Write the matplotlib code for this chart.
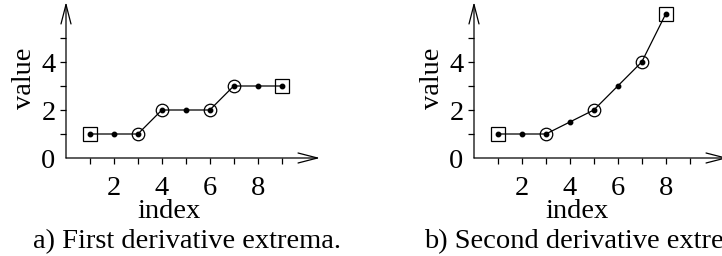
import matplotlib
matplotlib.use("Agg")
import matplotlib.pyplot as plt
from matplotlib.patches import FancyArrowPatch

plt.rcParams['font.family'] = ['Liberation Serif', 'DejaVu Serif']

# Data
idx_a = [1, 2, 3, 4, 5, 6, 7, 8, 9]
val_a = [1, 1, 1, 2, 2, 2, 3, 3, 3]
circ_a = [3, 4, 6, 7]
sq_a = [1, 9]

idx_b = [1, 2, 3, 4, 5, 6, 7, 8]
val_b = [1, 1, 1, 1.5, 2, 3, 4, 6]
circ_b = [3, 5, 7]
sq_b = [1, 8]

xticks = [1, 2, 3, 4, 5, 6, 7, 8, 9]
xticklabels = ['', '2', '', '4', '', '6', '', '8', '']
yticks = [0, 1, 2, 3, 4, 5]
yticklabels = ['0', '', '2', '', '4', '']

captions = ['a) First derivative extrema.', 'b) Second derivative extrema.']

W, H = 722, 256
fig = plt.figure(figsize=(W / 100, H / 100), dpi=100)

FS = 20.5
AX_H = 156

def panel(left_px, idx, val, circ, sq, caption):
    ax = fig.add_axes([left_px / W, (H - 158) / H, 254 / W, AX_H / H])
    ax.set_xlim(0, 10.6)
    ax.set_ylim(0, 6.5)
    for s in ax.spines.values():
        s.set_visible(False)
    ax.patch.set_visible(False)
    ax.plot(idx, val, color='black', lw=0.9, marker='o', ms=3.2, mfc='black', mec='black', zorder=3)
    cv = [val[idx.index(i)] for i in circ]
    ax.plot(circ, cv, ls='none', marker='o', ms=9.0, mfc='none', mec='black', mew=0.9, zorder=4)
    sv = [val[idx.index(i)] for i in sq]
    ax.plot(sq, sv, ls='none', marker='s', ms=9.4, mfc='none', mec='black', mew=0.9, zorder=4)
    for (x0, y0, x1, y1) in [(0, 0, 10.6, 0), (0, 0, 0, 6.5)]:
        ar = FancyArrowPatch((x0, y0), (x1, y1), arrowstyle='->,head_length=14,head_width=3.6',
                             mutation_scale=1, lw=0.9, color='black', shrinkA=0, shrinkB=0,
                             clip_on=False, zorder=2)
        ax.add_patch(ar)
    ax.set_xticks(xticks)
    ax.set_xticklabels(xticklabels)
    ax.set_yticks(yticks)
    ax.set_yticklabels(yticklabels)
    ax.tick_params(axis='x', direction='out', length=4, width=0.9, pad=9, labelsize=FS)
    ax.tick_params(axis='y', direction='out', length=4.5, width=0.9, pad=3, labelsize=FS)
    ax.yaxis.get_major_ticks()[0].tick1line.set_visible(False)
    ax.set_xlabel('index', fontsize=FS, va='baseline')
    ax.xaxis.set_label_coords(0.406, -(218 - 158) / AX_H)
    ax.set_ylabel('value', fontsize=FS)
    ax.yaxis.set_label_coords(-0.115, 3.3 / 6.5)
    ax.text(0.476, -(248 - 158) / AX_H, caption, transform=ax.transAxes,
            ha='center', va='baseline', fontsize=FS)
    return ax

panel(66, idx_a, val_a, circ_a, sq_a, captions[0])
panel(474, idx_b, val_b, circ_b, sq_b, captions[1])

fig.savefig('out.png', dpi=100)
